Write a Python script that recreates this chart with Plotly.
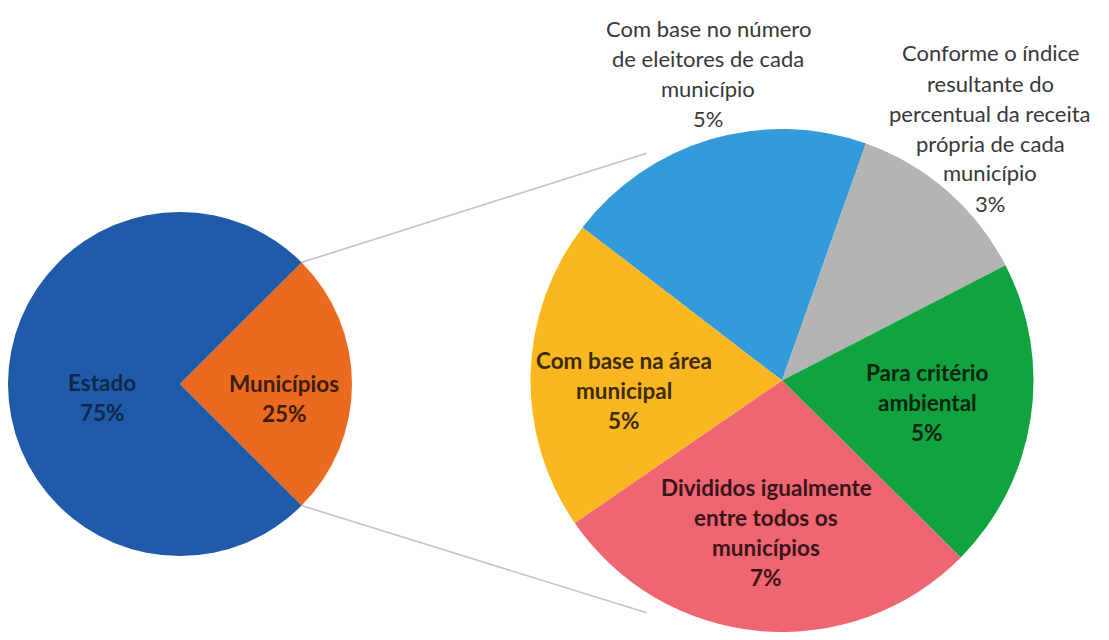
import math
import plotly.graph_objects as go

# ---------------- data ----------------
main_labels = ["Municípios", "Estado"]
main_values = [25, 75]
main_colors = ["#EC6A1F", "#1F5BA8"]

sub_labels = [
    "Com base no número de eleitores de cada município",
    "Conforme o índice resultante do percentual da receita própria de cada município",
    "Para critério ambiental",
    "Divididos igualmente entre todos os municípios",
    "Com base na área municipal",
]
sub_values = [5, 3, 5, 7, 5]
sub_colors = ["#339BD9", "#B4B4B4", "#10A33F", "#EE6671", "#FBB71F"]

# display lines for labels (category text wrapped as in the original)
main_label_lines = [["Municípios"], ["Estado"]]
sub_label_lines = [
    ["Com base no número", "de eleitores de cada", "município"],
    ["Conforme o índice", "resultante do", "percentual da receita", "própria de cada", "município"],
    ["Para critério", "ambiental"],
    ["Divididos igualmente", "entre todos os", "municípios"],
    ["Com base na área", "municipal"],
]

# ---------------- layout / geometry (window pixels) ----------------
WIN_W, WIN_H = 1109, 640
OFF = 8                      # default page body margin
W, H = WIN_W - 2 * OFF, WIN_H - 2 * OFF

L_CX, L_CY, L_R = 180, 384, 172
R_CX, R_CY, R_R = 782, 383, 254

main_label_pos = [(284, 383), (102, 382)]
sub_label_pos = [(708, 28), (990, 53), (927, 372), (766, 487), (624, 360)]
sub_label_inside = [False, False, True, True, True]
LINE_GAP = 30

def px(x):
    return (x - OFF) / W

def py(y):
    return 1 - (y - OFF) / H

def clamp(v):
    return min(1.0, max(0.0, v))

fig = go.Figure()

fig.add_trace(go.Pie(
    labels=main_labels, values=main_values, sort=False,
    direction="clockwise", rotation=45,
    marker=dict(colors=main_colors, line=dict(width=0)),
    textinfo="none", hoverinfo="label+percent", showlegend=False,
    domain=dict(x=[clamp(px(L_CX - L_R)), clamp(px(L_CX + L_R))],
                y=[clamp(py(L_CY + L_R)), clamp(py(L_CY - L_R))]),
))

fig.add_trace(go.Pie(
    labels=sub_labels, values=sub_values, sort=False,
    direction="clockwise", rotation=-52.5,
    marker=dict(colors=sub_colors, line=dict(width=0)),
    textinfo="none", hoverinfo="label+value", showlegend=False,
    domain=dict(x=[clamp(px(R_CX - R_R)), clamp(px(R_CX + R_R))],
                y=[clamp(py(R_CY + R_R)), clamp(py(R_CY - R_R))]),
))

# connector lines from the corners of the "Municípios" wedge to the second pie
main_total = sum(main_values)
wedge = 360 * main_values[0] / main_total
start_angle = 45
a1 = math.radians(start_angle)
a2 = math.radians(start_angle + wedge)
ends = [math.radians(-30.5), math.radians(210.5)]
for a_l, a_r in zip([a1, a2], ends):
    x0 = L_CX + L_R * math.sin(a_l)
    y0 = L_CY - L_R * math.cos(a_l)
    x1 = R_CX + R_R * 1.05 * math.sin(a_r)
    y1 = R_CY - R_R * 1.05 * math.cos(a_r)
    fig.add_shape(type="line", xref="paper", yref="paper",
                  x0=px(x0), y0=py(y0), x1=px(x1), y1=py(y1),
                  line=dict(color="#C4C4C4", width=1.6), layer="below")

FONT = "Lato"

def add_label(lines, x, y, color, bold):
    for i, t in enumerate(lines):
        fig.add_annotation(
            x=px(x), y=py(y + i * LINE_GAP), xref="paper", yref="paper",
            text=t, showarrow=False, xanchor="center", yanchor="middle",
            font=dict(family=FONT, size=22.5 if bold else 22, color=color,
                      weight="bold" if bold else "normal"),
        )

main_text_colors = ["#3A1C08", "#0F2748"]
for lines, v, (x, y), c in zip(main_label_lines, main_values, main_label_pos, main_text_colors):
    add_label(lines + [f"{v}%"], x, y, c, True)

sub_text_colors = ["#383838", "#383838", "#06240F", "#3A1418", "#3A2A05"]
for lines, v, (x, y), ins, c in zip(sub_label_lines, sub_values, sub_label_pos, sub_label_inside, sub_text_colors):
    add_label(lines + [f"{v}%"], x, y, c, ins)

fig.update_layout(
    width=W, height=H, margin=dict(l=0, r=0, t=0, b=0),
    paper_bgcolor="white", plot_bgcolor="white", showlegend=False,
)

fig.write_html("out.html")
